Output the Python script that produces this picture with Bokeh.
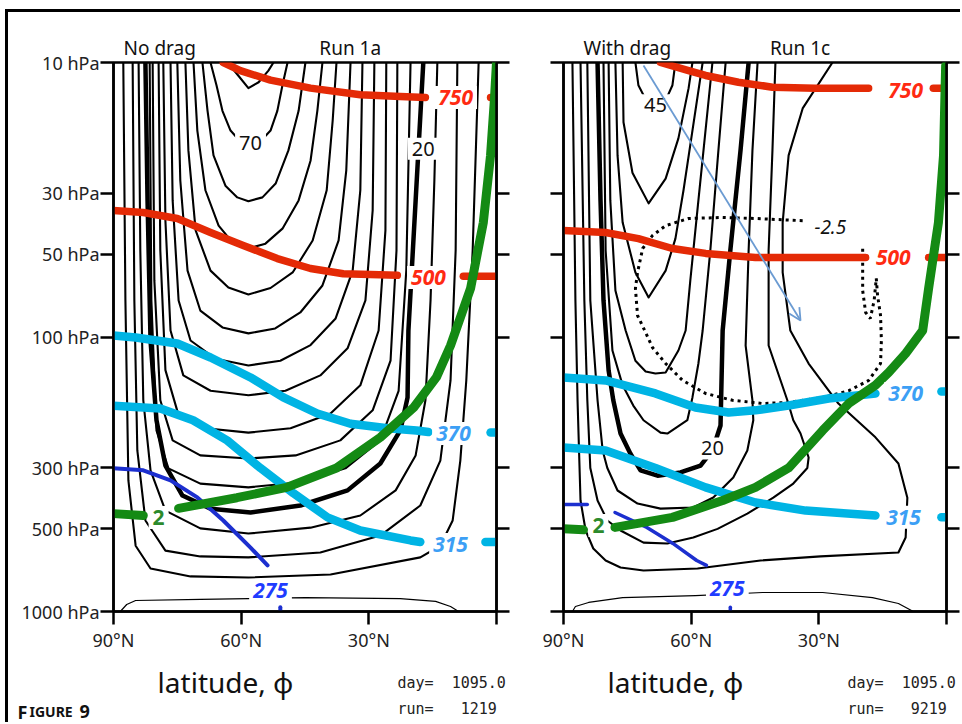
from bokeh.plotting import figure
from bokeh.models import Range1d, FixedTicker, LogAxis, Label, Arrow, OpenHead, Title
from bokeh.layouts import row, column
from bokeh.embed import file_html
from bokeh.resources import INLINE

# ---------------- axes ----------------
lat_ticks = [90, 60, 30, 0]
lat_tick_labels = ["90°N", "60°N", "30°N", ""]
p_ticks = [10, 30, 50, 100, 300, 500, 1000]
p_tick_labels = ["10 hPa", "30 hPa", "50 hPa", "100 hPa", "300 hPa", "500 hPa", "1000 hPa"]

# ---------------- left panel (Run 1a, no drag): zonal-wind contours ----------------
Lc75_lat = [63.2, 60.6, 58.3, 55.9, 53.6, 52.4]
Lc75_p = [10, 11.2, 12.4, 11.8, 10.7, 10]
Lc70_lat = [67.2, 65.8, 64.4, 62.5, 60.2, 57.8, 55.5, 53.1, 51.5, 50.3, 49.1]
Lc70_p = [10, 12.1, 15.0, 17.7, 19.4, 19.7, 19.4, 17.7, 15.0, 12.1, 10]
Lc65_lat = [69.1, 67.9, 66.5, 63.7, 60.9, 58.3, 55.0, 51.9, 48.9, 46.5, 44.9]
Lc65_p = [10, 15.0, 21.8, 28.1, 31.0, 32.0, 31.0, 27.6, 20.9, 15.0, 10]
Lc60_lat = [71.2, 70.3, 68.4, 65.3, 62.0, 58.3, 54.3, 50.3, 46.5, 43.7, 42.1, 40.9]
Lc60_p = [10, 17.7, 29.2, 39.3, 45.3, 47.6, 45.7, 40.3, 31.8, 22.8, 15.0, 10]
Lc55_lat = [73.1, 72.4, 70.7, 67.2, 63.0, 58.3, 53.1, 47.9, 43.2, 39.9, 38.5, 37.6]
Lc55_p = [10, 20.9, 40.9, 57.3, 66.0, 70.0, 66.3, 58.2, 44.5, 29.2, 16.3, 10]
Lc50_lat = [75.0, 74.3, 72.6, 69.6, 64.4, 58.3, 52.0, 46.1, 40.9, 37.1, 35.3, 34.3]
Lc50_p = [10, 26.9, 57.3, 80.1, 92.3, 97, 93.1, 81.4, 64.9, 44.5, 24.7, 10]
Lc45_lat = [76.6, 76.1, 74.7, 71.9, 66.0, 58.3, 50.8, 43.7, 37.8, 33.8, 32.0, 31.5]
Lc45_p = [10, 31.8, 73.6, 103, 120, 127, 122, 107, 85.6, 57.3, 29.2, 10]
Lc40_lat = [78.3, 77.8, 76.6, 73.6, 67.2, 58.3, 49.6, 41.4, 35.0, 30.8, 29.1, 28.7]
Lc40_p = [10, 37.7, 94.7, 138, 157, 163, 157, 138, 110, 73.6, 34.6, 10]
Lc35_lat = [79.4, 79.0, 77.8, 74.7, 68.4, 58.3, 48.4, 39.0, 32.0, 27.7, 26.1, 25.9]
Lc35_p = [10, 48.4, 132, 193, 215, 223, 215, 190, 150, 94.7, 40.9, 10]
Lc30_lat = [80.8, 80.4, 79.0, 76.1, 69.6, 58.3, 47.2, 36.7, 29.1, 24.9, 23.5, 23.3]
Lc30_p = [10, 62.2, 170, 238, 270, 277, 270, 238, 185, 122, 48.4, 10]
Lc25_lat = [81.5, 81.1, 79.9, 77.1, 69.6, 58.3, 46.1, 35.5, 27.3, 23.0, 21.2, 20.2]
Lc25_p = [10, 73.6, 219, 301, 342, 353, 338, 301, 238, 157, 57.3, 10]
Lc20_lat = [82.5, 82.0, 81.3, 79.9, 77.8, 73.8, 67.2, 57.8, 46.1, 35.0, 27.3, 22.6, 20.9, 20.7, 19.0, 17.2]
Lc20_p = [10, 31.8, 103, 201, 294, 378, 422, 436, 411, 362, 289, 219, 166, 94.7, 31.8, 10]
Lc15_lat = [84.1, 83.7, 83.0, 81.3, 77.8, 69.6, 58.3, 43.7, 32.0, 23.7, 19.0, 16.7, 15.5, 14.6, 13.9]
Lc15_p = [10, 48.4, 170, 306, 429, 498, 520, 495, 447, 362, 270, 170, 73.6, 26.9, 10]
Lc10_lat = [85.5, 85.1, 84.4, 82.5, 77.8, 69.6, 58.3, 41.4, 27.3, 17.9, 13.2, 10.8, 9.6, 9.2]
Lc10_p = [10, 73.6, 259, 466, 600, 630, 635, 610, 529, 411, 282, 144, 48.4, 10]
Lc5_lat = [87.7, 87.2, 86.5, 84.8, 81.3, 71.9, 58.3, 39.0, 17.9, 13.2, 10.3, 8.5, 7.1, 5.6, 4.2]
Lc5_p = [10, 73.6, 333, 576, 697, 745, 752, 733, 635, 576, 466, 282, 144, 48.4, 10]
Lc0_lat = [88.4, 86.9, 84.8, 69.6, 58.3, 44.9, 22.6, 14.3, 10.8, 8.9]
Lc0_p = [1000, 943, 912, 904, 897, 890, 897, 919, 959, 1000]

# left panel: isentropes (K) and PV = 2 PVU
L750_lat = [64.2, 60.2, 53.1, 43.7, 32.0, 22.6, 16.7]
L750_p = [10, 10.7, 11.6, 12.4, 13.1, 13.3, 13.4]
L750_end_lat = [1.4, 0]
L750_end_p = [13.4, 13.4]
L500_lat = [90, 83.0, 75.0, 67.2, 59.5, 51.5, 43.7, 36.0, 23.3]
L500_p = [34.6, 35.2, 37.0, 41.6, 46.4, 51.8, 56.3, 58.8, 59.6]
L500_end_lat = [7.8, 0]
L500_end_p = [60.1, 60.1]
L370_lat = [90, 84.8, 75.0, 67.2, 57.8, 50.1, 42.1, 34.3, 25.6, 18.8, 16.0]
L370_p = [98.7, 100.4, 105.6, 118.8, 140.4, 166, 190, 207, 215, 219, 222]
L370_end_lat = [1.4, 0]
L370_end_p = [223, 223]
L315_lat = [90, 79.0, 71.3, 63.3, 55.5, 47.7, 39.7, 32.0, 20.2, 17.9]
L315_p = [178, 182, 201, 238, 300, 371, 454, 507, 551, 558]
L315_end_lat = [2.6, 0]
L315_end_p = [558, 558]
L275_lat = [90, 83.0, 76.6, 70.3, 64.2, 57.8, 53.8]
L275_p = [301, 306, 333, 384, 466, 585, 679]
L275_end_lat = [50.8, 50.8]
L275_end_p = [965, 1000]
Lpv_a_lat = [90, 83.0]
Lpv_a_p = [440, 447]
Lpv_lat = [74.7, 61.0, 49.3, 37.6, 27.3, 19.5, 14.1, 10.8, 6.1, 3.1, 1.4, 0.5, 0]
Lpv_p = [421, 385, 353, 300, 232, 181, 140, 107.4, 66.6, 38.3, 21.8, 13.7, 10]

# ---------------- right panel (Run 1c, with drag) ----------------
Rc45_lat = [73.1, 72.4, 70.0, 68.4, 66.5, 64.4, 63.7]
Rc45_p = [10, 12.1, 14.3, 15.0, 14.3, 12.1, 10]
Rc40_lat = [76.1, 75.9, 73.8, 70.0, 66.0, 63.0, 60.6, 59.7]
Rc40_p = [10, 16.5, 25.2, 32.6, 26.5, 18.9, 12.4, 10]
Rc35_lat = [77.8, 77.3, 76.1, 73.1, 70.0, 66.0, 63.7, 61.8, 59.7, 57.3]
Rc35_p = [10, 21.8, 38.3, 58.2, 71.8, 57.3, 43.8, 29.2, 17.7, 10]
Rc30_lat = [79.4, 79.0, 77.8, 75.4, 73.1, 70.7, 68.4, 66.0, 63.0, 61.3, 60.2, 58.3, 55.0]
Rc30_p = [10, 31.8, 67.7, 94.7, 122, 133.6, 135.8, 134.7, 112, 94.7, 62.2, 31.8, 10]
Rc25_lat = [80.6, 80.1, 78.5, 76.1, 73.6, 71.2, 67.2, 65.6, 60.9, 59.7, 58.3, 57.3, 55.5, 53.6, 51.9]
Rc25_p = [10, 48.4, 112, 150, 177.7, 201, 223, 224.7, 201, 166, 124.9, 94.7, 48.4, 20.9, 10]
Rc20_lat = [82.0, 81.3, 80.6, 79.4, 78.3, 76.6, 74.3, 71.9, 67.9, 62.5, 57.8, 55.0, 53.1, 52.6, 50.8, 48.4, 46.5]
Rc20_p = [10, 31.8, 73.6, 132.4, 170, 224.7, 265.7, 306, 320, 311.6, 294, 259, 210, 94.7, 48.4, 20.9, 10]
Rc15_lat = [84.4, 83.7, 82.0, 80.8, 79.7, 77.3, 72.6, 67.2, 59.5, 54.8, 50.1, 46.8, 45.4, 45.6, 47.2, 46.5, 45.6, 44.4]
Rc15_p = [10, 73.6, 170, 259, 300, 362.4, 404.3, 422, 418, 384.4, 325, 259, 201, 170, 107.4, 48.4, 20.9, 10]
Rc10_lat = [86.0, 85.1, 84.4, 83.7, 82.0, 79.7, 76.6, 71.2, 65.6, 59.5, 53.8, 46.8, 40.7, 36.0, 32.7, 32.4,
            34.3, 36.0, 37.4, 41.8, 41.8, 40.9, 40.2]
Rc10_p = [10, 73.6, 170, 300, 394, 466, 507, 561, 565, 537.6, 500, 440, 385, 341.8, 300, 274.8,
          224.7, 201, 170, 107.4, 48.4, 20.9, 10]
Rc5_lat = [87.9, 87.2, 86.7, 86.0, 84.8, 83.0, 80.1, 76.6, 71.2, 58.5, 43.7, 29.6, 11.3, 9.6, 9.2, 11.3,
           16.7, 25.4, 32.4, 36.7, 38.5, 38.5, 37.1, 33.8, 26.8]
Rc5_p = [10, 73.6, 170, 394, 507, 589.6, 652, 691, 708.8, 697, 652, 630, 610, 537.6, 385, 289,
         232, 174.7, 124.9, 94.7, 58.2, 38.3, 21.8, 14.7, 10]
Rc0_lat = [87.9, 87.2, 84.1, 76.1, 59.0, 43.2, 29.1, 17.4, 11.3, 7.8]
Rc0_p = [1000, 959, 927, 890, 874.6, 852.6, 852.6, 890, 935, 1000]
# dotted -2.5 contour
Rneg_lat = [33.8, 44.9, 52.6, 60.6, 66.0, 69.1, 71.4, 72.6, 73.1, 72.6, 70.7, 69.1, 66.0, 62.0, 56.6, 50.3,
            43.2, 37.1, 29.1, 23.0, 18.3, 15.5, 15.3, 15.5, 16.2, 16.5, 17.0, 17.9, 19.0, 19.7, 19.7, 19.7]
Rneg_p = [37.7, 37.0, 36.7, 37.0, 39.3, 42.7, 47.6, 58.2, 66.5, 83.5, 96.3, 109.2, 124.9, 144, 160.6, 170,
          174.7, 173.2, 166, 157, 144, 124.9, 103, 83.5, 70.6, 61.2, 73.6, 85.6, 81.4, 67.7, 54.9, 46.4]

R750_lat = [67.2, 60.6, 56.6, 48.9, 40.9, 30.8, 18.3]
R750_p = [10, 10.7, 11.15, 11.8, 12.3, 12.4, 12.4]
R750_end_lat = [3.1, 0]
R750_end_p = [12.4, 12.4]
R500_lat = [90, 80.1, 72.4, 64.4, 56.6, 44.9, 19.0]
R500_p = [40.9, 41.6, 43.8, 47.6, 49.6, 51.3, 51.3]
R500_end_lat = [4.2, 0]
R500_end_p = [51.3, 51.3]
R370_lat = [90, 80.1, 68.4, 59.0, 51.2, 44.9, 37.1, 27.7, 16.7]
R370_p = [140.4, 144, 160.6, 180.6, 188.4, 185, 177.7, 167.5, 160.6]
R370_end_lat = [1.2, 0]
R370_end_p = [158, 158]
R315_lat = [90, 80.1, 68.4, 56.6, 44.9, 33.1, 16.7]
R315_p = [252.6, 259, 300, 353, 400.8, 429, 447]
R315_end_lat = [1.2, 0]
R315_end_p = [454, 454]
R275_a_lat = [90, 84.4]
R275_a_p = [407.6, 407.6]
R275_lat = [77.9, 70.4, 64.3, 58.7, 56.4]
R275_p = [436, 494, 565, 652, 679]
R275_end_lat = [50.8, 50.8]
R275_end_p = [965, 1000]
Rpv_a_lat = [90, 85.3]
Rpv_a_p = [500, 504]
Rpv_lat = [77.9, 64.4, 52.6, 44.9, 37.1, 29.1, 23.0, 16.7, 13.6, 9.6, 5.6, 4.2, 1.9, 0.7, 0.2]
Rpv_p = [494, 454, 394, 353, 300, 219, 174.7, 150, 134.7, 114.8, 94.7, 66.5, 38.3, 21.8, 10.25]

arrow_lat = [71.2, 34.3]
arrow_p = [10.25, 87.1]

RED, RED_T = "#e42a06", "#ff2a12"
CYAN, CYAN_T = "#00b4e4", "#3c9ff5"
BLUE, BLUE_T = "#1c2fcf", "#1f3cff"
GREEN, GREEN_T = "#148a14", "#2c8a2c"
FONT = "Noto Sans"
NB = "\u00a0"


def make_panel(border_left, border_right, show_labels, head_left, head_right, gap, offset):
    p = figure(x_range=Range1d(90, 0), y_range=Range1d(1000, 10), y_axis_type="log",
               frame_width=383, frame_height=549,
               min_border_left=border_left, min_border_right=border_right,
               min_border_top=50, min_border_bottom=53,
               output_backend="svg", toolbar_location=None)
    p.grid.visible = False
    p.background_fill_color = "white"
    p.border_fill_color = "white"
    p.outline_line_color = "black"
    p.outline_line_width = 2.5

    xa = p.xaxis[0]
    xa.ticker = FixedTicker(ticks=lat_ticks, minor_ticks=[])
    xa.major_label_overrides = dict(zip(lat_ticks, lat_tick_labels))
    ya = p.yaxis[0]
    ya.ticker = FixedTicker(ticks=p_ticks, minor_ticks=[])
    ra = LogAxis(ticker=FixedTicker(ticks=p_ticks, minor_ticks=[]))
    p.add_layout(ra, "right")
    for ax in (xa, ya, ra):
        ax.axis_line_width = 2.5
        ax.axis_line_color = "black"
        ax.major_tick_line_width = 2.5
        ax.major_tick_line_color = "black"
        ax.major_tick_out = 13
        ax.major_tick_in = 0
        ax.minor_tick_out = 0
        ax.minor_tick_in = 0
        ax.major_label_text_font = FONT
        ax.major_label_text_font_size = "18px"
        ax.major_label_text_color = "#222222"
    xa.major_label_standoff = 3
    ya.major_label_standoff = 1
    ra.major_label_overrides = {t: "" for t in p_ticks}
    ra.major_label_standoff = 0
    if show_labels:
        ya.major_label_overrides = dict(zip(p_ticks, p_tick_labels))
    else:
        ya.major_label_overrides = {t: "" for t in p_ticks}
        ya.major_label_standoff = 0
    head = Title(text=head_left + NB * gap + head_right, align="left", offset=offset, standoff=4,
                 text_font=FONT, text_font_size="19px", text_font_style="normal",
                 text_color="#111111")
    p.add_layout(head, "above")
    return p


def add_text(p, x, y, text, color="#111111", size="20px", style="normal",
             font=FONT, align="center", bg=True, baseline="middle"):
    lab = Label(x=x, y=y, text=text, text_color=color, text_font=font,
                text_font_size=size, text_font_style=style, text_align=align,
                text_baseline=baseline)
    if bg:
        lab.background_fill_color = "white"
        lab.background_fill_alpha = 1.0
        lab.padding = 4
    p.add_layout(lab)


def draw_lines(p, pairs, color, width, dash="solid"):
    p.multi_line(xs=[a for a, b in pairs], ys=[b for a, b in pairs],
                 line_color=color, line_width=width, line_dash=dash,
                 line_cap="round", line_join="round")


# ---------------- left panel ----------------
p1 = make_panel(105, 24, True, "No drag", "Run 1a", 25, 10)
draw_lines(p1, [(Lc75_lat, Lc75_p), (Lc70_lat, Lc70_p), (Lc65_lat, Lc65_p), (Lc60_lat, Lc60_p),
                (Lc55_lat, Lc55_p), (Lc50_lat, Lc50_p), (Lc45_lat, Lc45_p), (Lc40_lat, Lc40_p),
                (Lc35_lat, Lc35_p), (Lc30_lat, Lc30_p), (Lc25_lat, Lc25_p), (Lc15_lat, Lc15_p),
                (Lc10_lat, Lc10_p), (Lc5_lat, Lc5_p)], "black", 2.1)
draw_lines(p1, [(Lc20_lat, Lc20_p)], "black", 4.5)
draw_lines(p1, [(Lc0_lat, Lc0_p)], "black", 1.2)
draw_lines(p1, [(L750_lat, L750_p), (L750_end_lat, L750_end_p),
                (L500_lat, L500_p), (L500_end_lat, L500_end_p)], RED, 7.5)
draw_lines(p1, [(L370_lat, L370_p), (L370_end_lat, L370_end_p),
                (L315_lat, L315_p), (L315_end_lat, L315_end_p)], CYAN, 8.5)
draw_lines(p1, [(L275_lat, L275_p), (L275_end_lat, L275_end_p)], BLUE, 4)
draw_lines(p1, [(Lpv_a_lat, Lpv_a_p), (Lpv_lat, Lpv_p)], GREEN, 9)

add_text(p1, 57.8, 19.7, "70")
add_text(p1, 17.2, 20.6, "20")
add_text(p1, 9.6, 13.4, "750", RED_T, "21px", "bold italic")
add_text(p1, 16.0, 60.7, "500", RED_T, "21px", "bold italic")
add_text(p1, 10.1, 224.7, "370", CYAN_T, "21px", "bold italic")
add_text(p1, 10.8, 570, "315", CYAN_T, "21px", "bold italic")
add_text(p1, 53.1, 838, "275", BLUE_T, "21px", "bold italic")
add_text(p1, 79.4, 455, "2", GREEN_T, "21px", "bold")

# ---------------- right panel ----------------
p2 = make_panel(43, 14, False, "With drag", "Run 1c", 20, 20)
draw_lines(p2, [(Rc45_lat, Rc45_p), (Rc40_lat, Rc40_p), (Rc35_lat, Rc35_p), (Rc30_lat, Rc30_p),
                (Rc25_lat, Rc25_p), (Rc15_lat, Rc15_p), (Rc10_lat, Rc10_p), (Rc5_lat, Rc5_p)],
           "black", 2.1)
draw_lines(p2, [(Rc20_lat, Rc20_p)], "black", 4.5)
draw_lines(p2, [(Rc0_lat, Rc0_p)], "black", 1.2)
p2.line(Rneg_lat, Rneg_p, line_color="black", line_width=3, line_dash="3 4")
draw_lines(p2, [(R750_lat, R750_p), (R750_end_lat, R750_end_p),
                (R500_lat, R500_p), (R500_end_lat, R500_end_p)], RED, 7.5)
draw_lines(p2, [(R370_lat, R370_p), (R370_end_lat, R370_end_p),
                (R315_lat, R315_p), (R315_end_lat, R315_end_p)], CYAN, 8.5)
draw_lines(p2, [(R275_a_lat, R275_a_p), (R275_lat, R275_p), (R275_end_lat, R275_end_p)], BLUE, 3.5)
draw_lines(p2, [(Rpv_a_lat, Rpv_a_p), (Rpv_lat, Rpv_p)], GREEN, 9)

add_text(p2, 68.4, 14.3, "45")
add_text(p2, 55.0, 254.7, "20")
add_text(p2, 27.3, 39.9, "-2.5", size="19px", style="italic")
add_text(p2, 9.6, 12.6, "750", RED_T, "21px", "bold italic")
add_text(p2, 12.5, 51.3, "500", RED_T, "21px", "bold italic")
add_text(p2, 9.6, 160.6, "370", CYAN_T, "21px", "bold italic")
add_text(p2, 10.1, 454, "315", CYAN_T, "21px", "bold italic")
add_text(p2, 51.5, 824, "275", BLUE_T, "21px", "bold italic")
add_text(p2, 81.8, 486, "2", GREEN_T, "21px", "bold")

p2.add_layout(Arrow(x_start=arrow_lat[0], y_start=arrow_p[0], x_end=arrow_lat[1], y_end=arrow_p[1],
                    line_color="#6b9bd2", line_width=1.8,
                    end=OpenHead(size=12, line_color="#6b9bd2", line_width=1.8)))

# ---------------- caption strip under the panels (positions in strip pixels) ----------------
strip = figure(width=952, height=58, x_range=Range1d(0, 952), y_range=Range1d(58, 0),
               min_border=0, x_axis_location=None, y_axis_location=None,
               output_backend="svg", toolbar_location=None)
strip.grid.visible = False
strip.outline_line_color = None
strip.background_fill_color = "white"
strip.border_fill_color = "white"
for x0 in (0, 450):
    add_text(strip, x0 + 217, 17, "latitude, ϕ", size="28px", bg=False)
    add_text(strip, x0 + 389, 18, "day=" + NB * 2 + "1095.0", "#222222", "15px",
             font="DejaVu Sans Mono", align="left", bg=False)
add_text(strip, 389, 44, "run=" + NB * 3 + "1219", "#222222", "15px",
         font="DejaVu Sans Mono", align="left", bg=False)
add_text(strip, 839, 44, "run=" + NB * 3 + "9219", "#222222", "15px",
         font="DejaVu Sans Mono", align="left", bg=False)
add_text(strip, 9, 47, "F", "#111111", "18px", "bold", align="left", bg=False, baseline="alphabetic")
add_text(strip, 21, 47, "IGURE", "#111111", "14px", "bold", align="left", bg=False, baseline="alphabetic")
add_text(strip, 71, 47, "9", "#111111", "18px", "bold", align="left", bg=False, baseline="alphabetic")

layout = column(row(p1, p2), strip, margin=(9, 0, 0, 5),
                styles={"border-top": "3px solid black", "border-left": "3px solid black"})

open("out.html", "w").write(file_html(layout, INLINE, title="Figure 9"))
